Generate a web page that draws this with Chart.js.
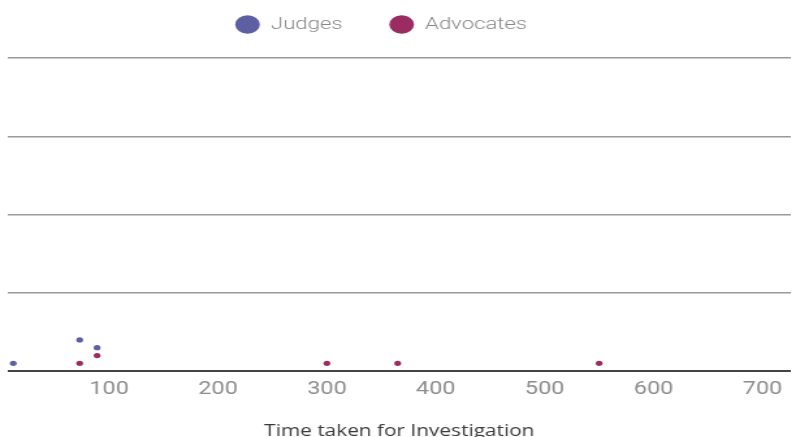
<!DOCTYPE html>
<html>
<head>
<meta charset="utf-8">
<script src="https://cdn.jsdelivr.net/npm/chart.js@4/dist/chart.umd.min.js"></script>
<style>
  html, body { margin: 0; padding: 0; background: #fff; overflow: hidden; }
  /* the chart is laid out narrow and widened horizontally */
  #wrap { position: absolute; left: 0; top: 0; width: 612px; height: 437px;
          transform: scaleX(1.3007); transform-origin: 0 0; }
</style>
</head>
<body>
<div id="wrap"><canvas id="chart"></canvas></div>
<script>
// Days taken for investigation and number of cases, per group
const seriesNames = ['Judges', 'Advocates'];
const judgesDays = [12, 73, 89];
const judgesCases = [1, 4, 3];
const advocatesDays = [73, 89, 300, 365, 550];
const advocatesCases = [1, 2, 1, 1, 1];
const xTickValues = [100, 200, 300, 400, 500, 600, 700];
const yTickValues = [0, 10, 20, 30, 40];
const xTitle = 'Time taken for Investigation';

const toPoints = (xs, ys) => xs.map((x, i) => ({ x: x, y: ys[i] }));

// nudges the legend block into place above the plot
const legendNudge = {
  id: 'legendNudge',
  afterLayout(chart) {
    const l = chart.legend;
    if (!l) return;
    l.left -= 16; l.right -= 16;
    l.top -= 20; l.bottom -= 20;
  }
};

new Chart(document.getElementById('chart'), {
  type: 'scatter',
  data: {
    datasets: [
      {
        label: seriesNames[0],
        data: toPoints(judgesDays, judgesCases),
        backgroundColor: '#5e5fa2',
        borderColor: '#5e5fa2',
        borderWidth: 0,
        pointRadius: 2.6,
        pointStyle: 'circle'
      },
      {
        label: seriesNames[1],
        data: toPoints(advocatesDays, advocatesCases),
        backgroundColor: '#9b2c62',
        borderColor: '#9b2c62',
        borderWidth: 0,
        pointRadius: 2.6,
        pointStyle: 'circle'
      }
    ]
  },
  options: {
    responsive: true,
    maintainAspectRatio: false,
    animation: false,
    layout: { padding: { left: 6, right: 0, top: 0, bottom: -4 } },
    plugins: {
      tooltip: { enabled: false },
      legend: {
        position: 'top',
        maxHeight: 58,
        labels: {
          usePointStyle: true,
          pointStyle: 'circle',
          pointStyleWidth: 19,
          boxHeight: 13,
          padding: 36,
          color: '#888',
          font: { family: 'Roboto', size: 17, weight: 300 }
        }
      }
    },
    scales: {
      x: {
        type: 'linear',
        min: 7,
        max: 726,
        afterBuildTicks(scale) { scale.ticks = xTickValues.map(v => ({ value: v })); },
        grid: { display: false, drawTicks: false },
        border: { display: false },
        ticks: {
          padding: 7,
          color: '#8c8c8c',
          font: { family: 'Roboto', size: 18, weight: 400 }
        },
        title: {
          display: true,
          text: xTitle,
          color: '#3a3a3a',
          padding: { top: 15, bottom: 0 },
          font: { family: 'Open Sans', size: 16 }
        }
      },
      y: {
        type: 'linear',
        min: 0,
        max: 40,
        afterBuildTicks(scale) { scale.ticks = yTickValues.map(v => ({ value: v })); },
        ticks: { display: false },
        border: { display: false },
        grid: {
          drawTicks: false,
          tickLength: 0,
          color: ctx => (ctx.tick && ctx.tick.value === 0) ? '#444' : '#9a9a9a',
          lineWidth: ctx => (ctx.tick && ctx.tick.value === 0) ? 2 : 1.5
        }
      }
    }
  },
  plugins: [legendNudge]
});
</script>
</body>
</html>
